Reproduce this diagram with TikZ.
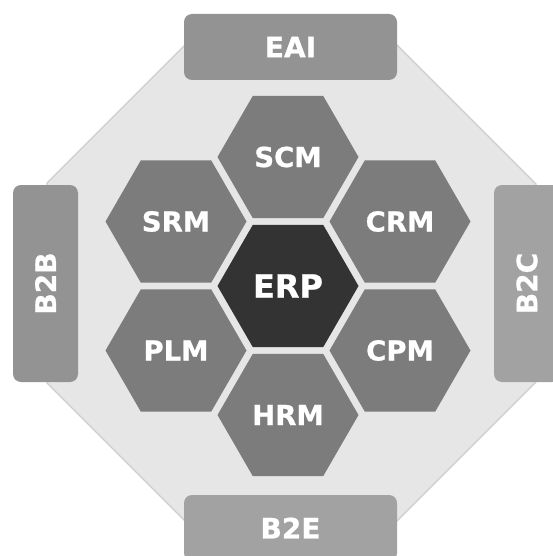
\documentclass[tikz,border=0pt]{standalone}
\usepackage{fontspec}
\setmainfont{DejaVu Sans}[BoldFeatures={FakeBold=0.8}]
\usetikzlibrary{shapes.geometric}
\definecolor{octfill}{HTML}{E6E6E6}
\definecolor{octline}{HTML}{CDCDCD}
\definecolor{hexfill}{HTML}{7C7C7C}
\definecolor{erpfill}{HTML}{333333}
\definecolor{boxA}{HTML}{939393}
\definecolor{boxB}{HTML}{A2A2A2}
\tikzset{
  hexnode/.style={regular polygon, regular polygon sides=6, minimum size=141pt,
    inner sep=0pt, outer sep=0pt, fill=hexfill, text=white,
    font=\bfseries\fontsize{27.5}{32}\selectfont},
  erpnode/.style={hexnode, fill=erpfill, font=\bfseries\fontsize{32}{38}\selectfont},
  sidebox/.style={rectangle, rounded corners=8pt, inner sep=0pt, outer sep=0pt,
    text=white, font=\bfseries\fontsize{28}{34}\selectfont},
}
\begin{document}
\begin{tikzpicture}[x=1pt,y=-1pt]
\useasboundingbox (0,0) rectangle (552,556);
\fill[white] (0,0) rectangle (552,556);
% octagon background
\filldraw[fill=octfill, draw=octline, line width=1.2pt]
  (185,45) -- (397,45) -- (536,184) -- (536,382) -- (397,521) -- (185,521) -- (47,383) -- (47,183) -- cycle;
% side boxes
\node[sidebox, fill=boxA, minimum width=213pt, minimum height=66pt] (eai) at (290.5,47) {EAI};
\node[sidebox, fill=boxB, minimum width=213pt, minimum height=66pt] (b2e) at (290.5,528) {B2E};
\node[sidebox, fill=boxA, minimum width=65pt, minimum height=197pt] (b2bbox) at (45.5,283.5) {};
\node[text=white, font=\bfseries\fontsize{28}{34}\selectfont, rotate=90] (b2b) at (b2bbox.center) {B2B};
\node[sidebox, fill=boxB, minimum width=66pt, minimum height=197pt] (b2cbox) at (527,283.5) {};
\node[text=white, font=\bfseries\fontsize{28}{34}\selectfont, rotate=90] (b2c) at (b2cbox.center) {B2C};
% hexagons
\node[erpnode] (erp) at (288,286) {ERP};
\node[hexnode] (scm) at (288,157) {SCM};
\node[hexnode] (hrm) at (288,415) {HRM};
\node[hexnode] (crm) at (400,221.5) {CRM};
\node[hexnode] (cpm) at (400,350.5) {CPM};
\node[hexnode] (srm) at (176,221.5) {SRM};
\node[hexnode] (plm) at (176,350.5) {PLM};
\end{tikzpicture}
\end{document}
